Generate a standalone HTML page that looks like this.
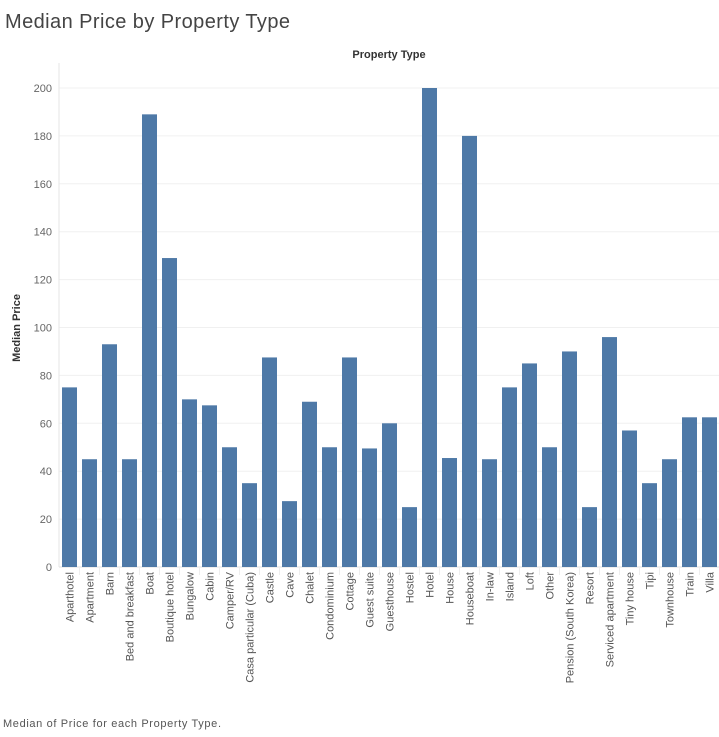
<!DOCTYPE html>
<html><head><meta charset="utf-8"><style>
body{margin:0;background:#fff;font-family:"Liberation Sans",sans-serif;}
svg text{font-family:"Liberation Sans",sans-serif;}
</style></head><body>
<svg id="chart" width="719" height="732" xmlns="http://www.w3.org/2000/svg">
<text x="5" y="28" font-size="20" fill="#444" textLength="285" lengthAdjust="spacing">Median Price by Property Type</text>
<text x="389" y="58" font-size="11" font-weight="bold" fill="#333" text-anchor="middle">Property Type</text>
<text transform="translate(20,328) rotate(-90)" font-size="11" font-weight="bold" fill="#333" text-anchor="middle">Median Price</text>
<text x="3" y="727" font-size="11" fill="#555" textLength="218" lengthAdjust="spacing">Median of Price for each Property Type.</text>
<g id="grid"></g><g id="bars"></g><g id="labels"></g>
<line x1="59" y1="63" x2="59" y2="567" stroke="#e6e6e6"/>
</svg>
<script>
const categories=["Aparthotel","Apartment","Barn","Bed and breakfast","Boat","Boutique hotel","Bungalow","Cabin","Camper/RV","Casa particular (Cuba)","Castle","Cave","Chalet","Condominium","Cottage","Guest suite","Guesthouse","Hostel","Hotel","House","Houseboat","In-law","Island","Loft","Other","Pension (South Korea)","Resort","Serviced apartment","Tiny house","Tipi","Townhouse","Train","Villa"];
const values=[75,45,93,45,189,129,70,67.5,50,35,87.5,27.5,69,50,87.5,49.5,60,25,200,45.5,180,45,75,85,50,90,25,96,57,35,45,62.5,62.5];
const ticks=[0,20,40,60,80,100,120,140,160,180,200];
const NS="http://www.w3.org/2000/svg";
const y=v=>567-v*(479/200);
const x=i=>60+i*20;
function mk(t,a,p){const e=document.createElementNS(NS,t);for(const k in a)e.setAttribute(k,a[k]);p.appendChild(e);return e;}
const grid=document.getElementById('grid'),bars=document.getElementById('bars'),labels=document.getElementById('labels');
ticks.forEach(t=>{
 const l=mk('line',{x1:59,x2:719,y1:y(t),y2:y(t),stroke:t===0?'#ddd':'#f0f0f0'},grid);
 
 
 const tx=mk('text',{x:52,y:y(t)+4,'font-size':11,fill:'#666','text-anchor':'end'},grid);
 tx.textContent=t;
 
 
});
categories.forEach((c,i)=>{
 const r=mk('rect',{x:x(i)+2,y:y(values[i]),width:15,height:567-y(values[i]),fill:'#4e79a7'},bars);
 
 
 const s=mk('line',{x1:x(i)+19.5,x2:x(i)+19.5,y1:568,y2:575,stroke:'#eee'},labels);
 
 
 const t=mk('text',{transform:`translate(${x(i)+13.5},572) rotate(-90)`,'font-size':11,fill:'#555','text-anchor':'end'},labels);
 t.textContent=c;
 
 
});
</script>
</body></html>
